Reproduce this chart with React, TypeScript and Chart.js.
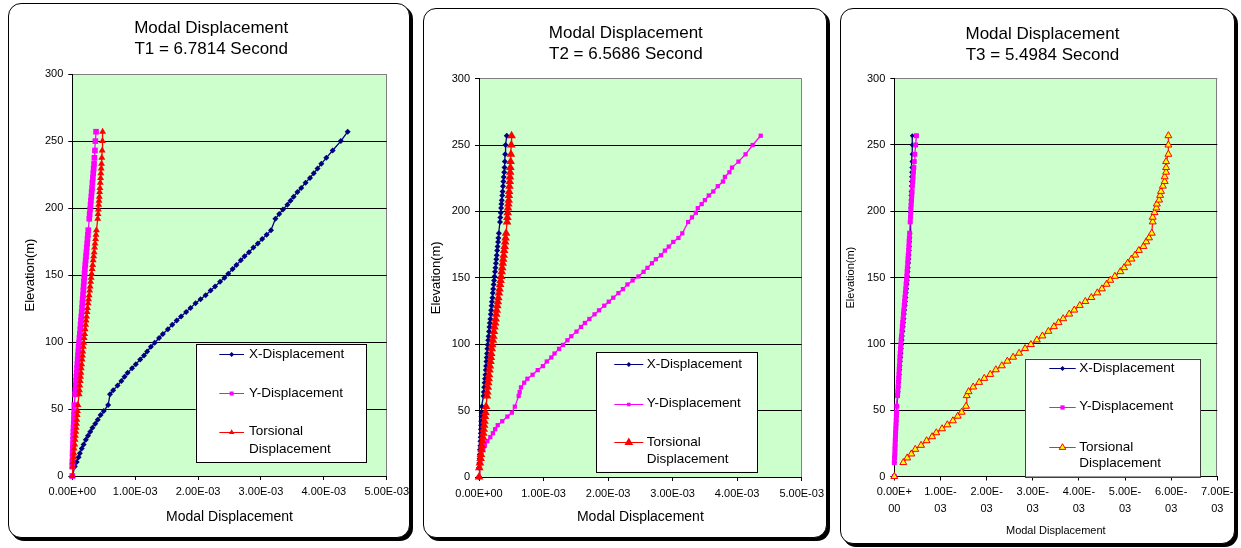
import React, { useEffect, useRef } from 'react';
import { Chart, registerables } from 'chart.js';

Chart.register(...registerables);

const FONT = '"Liberation Sans", Arial, Helvetica, sans-serif';
Chart.defaults.font.family = FONT;
Chart.defaults.color = '#000';

// ---------------- DATA ----------------
// Elevations (m) of the storey levels
const ELEVATIONS = [
  0, 7, 10.5, 14, 17, 20.5, 23.5, 27, 30, 33,
  36, 39, 42, 45.5, 48.5, 53, 61, 64, 67.5, 71,
  74, 77, 80.5, 83.5, 87, 90, 93, 96.5, 99.5, 103,
  106, 109.5, 113, 116, 119, 122.5, 125.5, 129, 132, 135,
  138.5, 141.5, 145, 148, 151, 154.5, 157.5, 161, 164, 167,
  170.5, 173.5, 177, 180, 183.5, 192, 195.5, 199, 202.5, 205.5,
  208.5, 212, 215, 219, 222.5, 226, 229.5, 233, 237.5, 243,
  250, 257,
];

// Displacements in units of 1E-03
const T1_X = [
  0, 0.04, 0.07, 0.10, 0.12, 0.15, 0.18, 0.215, 0.25, 0.285,
  0.32, 0.365, 0.405, 0.45, 0.50, 0.57, 0.60, 0.65, 0.72, 0.78,
  0.83, 0.88, 0.95, 1.01, 1.08, 1.14, 1.19, 1.25, 1.31, 1.38,
  1.44, 1.52, 1.59, 1.66, 1.73, 1.81, 1.88, 1.96, 2.04, 2.12,
  2.20, 2.27, 2.35, 2.42, 2.48, 2.55, 2.61, 2.68, 2.74, 2.81,
  2.88, 2.95, 3.02, 3.09, 3.16, 3.23, 3.29, 3.35, 3.42, 3.47,
  3.52, 3.58, 3.64, 3.71, 3.78, 3.84, 3.90, 3.96, 4.04, 4.14,
  4.27, 4.38,
];
const T1_Y = [
  0, 0, 0, 0.005, 0.005, 0.008, 0.01, 0.012, 0.015, 0.017,
  0.02, 0.022, 0.025, 0.027, 0.03, 0.032, 0.045, 0.05, 0.055, 0.06,
  0.065, 0.07, 0.075, 0.08, 0.085, 0.09, 0.095, 0.10, 0.107, 0.113,
  0.12, 0.126, 0.132, 0.138, 0.143, 0.15, 0.155, 0.16, 0.165, 0.17,
  0.175, 0.18, 0.185, 0.19, 0.195, 0.20, 0.206, 0.212, 0.218, 0.224,
  0.23, 0.236, 0.242, 0.248, 0.254, 0.27, 0.276, 0.283, 0.29, 0.296,
  0.302, 0.308, 0.314, 0.32, 0.327, 0.333, 0.34, 0.346, 0.352, 0.36,
  0.367, 0.378,
];
const T1_T = [
  0, 0.005, 0.01, 0.02, 0.025, 0.03, 0.04, 0.045, 0.05, 0.057,
  0.062, 0.068, 0.073, 0.078, 0.083, 0.09, 0.11, 0.115, 0.12, 0.127,
  0.132, 0.138, 0.143, 0.15, 0.157, 0.163, 0.168, 0.175, 0.182, 0.19,
  0.197, 0.205, 0.213, 0.22, 0.228, 0.236, 0.243, 0.252, 0.26, 0.268,
  0.276, 0.284, 0.292, 0.30, 0.308, 0.316, 0.324, 0.332, 0.34, 0.348,
  0.355, 0.362, 0.37, 0.377, 0.384, 0.405, 0.41, 0.415, 0.42, 0.425,
  0.43, 0.435, 0.44, 0.445, 0.45, 0.455, 0.46, 0.465, 0.47, 0.475,
  0.48, 0.482,
];

const T2_X = [
  0, 0, 0.005, 0.01, 0.012, 0.015, 0.02, 0.022, 0.025, 0.028,
  0.03, 0.033, 0.035, 0.038, 0.04, 0.045, 0.07, 0.075, 0.08, 0.087,
  0.093, 0.10, 0.105, 0.11, 0.115, 0.12, 0.125, 0.13, 0.135, 0.142,
  0.148, 0.155, 0.162, 0.168, 0.175, 0.182, 0.188, 0.195, 0.20, 0.207,
  0.213, 0.22, 0.227, 0.233, 0.24, 0.248, 0.255, 0.262, 0.268, 0.275,
  0.282, 0.288, 0.295, 0.30, 0.308, 0.325, 0.33, 0.337, 0.343, 0.348,
  0.353, 0.36, 0.365, 0.372, 0.378, 0.383, 0.39, 0.395, 0.40, 0.405,
  0.412, 0.43,
];
const T2_Y = [
  0, 0.01, 0.02, 0.03, 0.04, 0.065, 0.09, 0.13, 0.175, 0.215,
  0.25, 0.29, 0.36, 0.44, 0.51, 0.555, 0.615, 0.63, 0.65, 0.70,
  0.75, 0.83, 0.91, 0.99, 1.05, 1.12, 1.17, 1.24, 1.30, 1.37,
  1.43, 1.51, 1.58, 1.64, 1.71, 1.79, 1.86, 1.94, 2.01, 2.08,
  2.16, 2.23, 2.30, 2.38, 2.47, 2.55, 2.61, 2.68, 2.74, 2.82,
  2.88, 2.94, 3.01, 3.09, 3.15, 3.24, 3.30, 3.36, 3.39, 3.45,
  3.50, 3.56, 3.63, 3.70, 3.78, 3.81, 3.88, 3.92, 4.02, 4.13,
  4.24, 4.365,
];
const T2_T = [
  0, 0.005, 0.015, 0.025, 0.03, 0.04, 0.045, 0.055, 0.06, 0.067,
  0.073, 0.08, 0.085, 0.092, 0.10, 0.11, 0.125, 0.13, 0.137, 0.143,
  0.15, 0.155, 0.163, 0.17, 0.178, 0.185, 0.19, 0.198, 0.205, 0.215,
  0.223, 0.232, 0.24, 0.25, 0.258, 0.267, 0.275, 0.284, 0.292, 0.30,
  0.31, 0.318, 0.327, 0.335, 0.343, 0.352, 0.36, 0.368, 0.375, 0.383,
  0.39, 0.398, 0.405, 0.412, 0.42, 0.435, 0.44, 0.445, 0.45, 0.455,
  0.46, 0.463, 0.467, 0.472, 0.476, 0.48, 0.483, 0.486, 0.49, 0.495,
  0.50, 0.505,
];

const T3_X = [
  0, null, 0.005, 0.01, 0.013, 0.017, 0.02, 0.024, 0.028, 0.032,
  0.036, 0.04, 0.044, 0.048, 0.052, 0.058, 0.078, 0.084, 0.091, 0.098,
  0.105, 0.112, 0.119, 0.126, 0.133, 0.14, 0.147, 0.154, 0.161, 0.169,
  0.177, 0.186, 0.194, 0.202, 0.21, 0.219, 0.227, 0.236, 0.244, 0.252,
  0.26, 0.268, 0.276, 0.284, 0.291, 0.298, 0.304, 0.31, 0.316, 0.322,
  0.327, 0.331, 0.335, 0.339, 0.342, 0.345, 0.348, 0.35, 0.353, 0.356,
  0.358, 0.361, 0.364, 0.367, 0.37, 0.373, 0.376, 0.379, 0.382, 0.385,
  0.388, 0.39,
];
const T3_Y = [
  0, null, 0, 0.005, 0.01, 0.013, 0.017, 0.02, 0.024, 0.028,
  0.032, 0.036, 0.04, 0.044, 0.048, 0.053, 0.07, 0.076, 0.082, 0.088,
  0.094, 0.10, 0.106, 0.111, 0.117, 0.122, 0.127, 0.134, 0.14, 0.148,
  0.155, 0.165, 0.173, 0.18, 0.19, 0.198, 0.205, 0.215, 0.222, 0.23,
  0.24, 0.247, 0.255, 0.263, 0.27, 0.277, 0.283, 0.29, 0.296, 0.302,
  0.309, 0.315, 0.32, 0.326, 0.332, 0.345, 0.35, 0.356, 0.362, 0.368,
  0.374, 0.38, 0.386, 0.393, 0.40, 0.408, 0.415, 0.423, 0.433, 0.445,
  0.462, 0.48,
];
const T3_T = [
  0, null, 0.195, 0.28, 0.37, 0.455, 0.58, 0.70, 0.82, 0.91,
  1.035, 1.15, 1.27, 1.375, 1.46, 1.555, 1.57, 1.61, 1.71, 1.84,
  1.95, 2.08, 2.20, 2.33, 2.45, 2.575, 2.705, 2.835, 2.96, 3.09,
  3.21, 3.34, 3.46, 3.56, 3.66, 3.79, 3.90, 4.02, 4.14, 4.27,
  4.40, 4.50, 4.60, 4.68, 4.78, 4.90, 4.98, 5.06, 5.14, 5.22,
  5.30, 5.40, 5.46, 5.52, 5.58, 5.60, 5.60, 5.64, 5.68, 5.69,
  5.74, 5.76, 5.78, 5.82, 5.86, 5.86, 5.89, 5.89, 5.89, 5.94,
  5.94, 5.94,
];

const TITLE_T1 = ['Modal Displacement', 'T1 = 6.7814 Second'];
const TITLE_T2 = ['Modal Displacement', 'T2 = 6.5686 Second'];
const TITLE_T3 = ['Modal Displacement', 'T3 = 5.4984 Second'];
const X_AXIS_TITLE = 'Modal Displacement';
const Y_AXIS_TITLE = 'Elevation(m)';
const SERIES_LABELS = ['X-Displacement', 'Y-Displacement', 'Torsional Displacement'];
const LEGEND_LINES = [['X-Displacement'], ['Y-Displacement'], ['Torsional', 'Displacement']];
const Y_MAX = 300;
const Y_STEP = 50;
const X_STEP = 1; // 1.00E-03

// ---------------- LAYOUT / STYLE ----------------
type PanelCfg = {
  box: { left: number; top: number; w: number; h: number };
  title: string[];
  series: (number | null)[][];
  xMax: number;
  pad: { left: number; right: number; top: number; bottom: number };
  yW: number;
  xH: number;
  padR: number;
  titlePad: { top: number; bottom: number };
  titleLH: number;
  xTitleSize: number;
  yTitleSize: number;
  yTitlePad: number;
  xTickPad: number;
  xTickLH: number;
  wrap: boolean;
  legend: { box: number[]; line: number[]; textX: number; ys: number[]; lineGap: number; border: string; fontSize: number };
  pointR: number[];
  legendR: number[];
  torsionFill: string;
  torsionLine: string;
  torsionPointBorder: number;
};

const PANELS: PanelCfg[] = [
  {
    box: { left: 8, top: 3, w: 402, h: 535 },
    title: TITLE_T1,
    series: [T1_X, T1_Y, T1_T],
    xMax: 5,
    pad: { left: 4.4, right: 0, top: 0, bottom: 11.9 },
    yW: 58.9, xH: 49.1, padR: 22.3,
    titlePad: { top: 13.55, bottom: 14.75 }, titleLH: 1.23,
    xTitleSize: 14, yTitleSize: 13, yTitlePad: 8.8,
    xTickPad: 5.7, xTickLH: 1.2, wrap: false,
    legend: { box: [186.7, 340.3, 357, 458.7], line: [210.3, 235], textX: 240, ys: [350.3, 389.3, 427.7], lineGap: 17.3, border: '#000', fontSize: 13.5 },
    pointR: [3, 4, 4], legendR: [2.5, 2.8, 3.2],
    torsionFill: '#FF0000', torsionLine: '#FF0000', torsionPointBorder: 0,
  },
  {
    box: { left: 423, top: 8, w: 404, h: 530 },
    title: TITLE_T2,
    series: [T2_X, T2_Y, T2_T],
    xMax: 5,
    pad: { left: 1.6, right: 0, top: 0, bottom: 11.6 },
    yW: 53.4, xH: 48.4, padR: 24.3,
    titlePad: { top: 13.75, bottom: 14.05 }, titleLH: 1.23,
    xTitleSize: 14, yTitleSize: 13, yTitlePad: 3.3,
    xTickPad: 6.1, xTickLH: 1.2, wrap: false,
    legend: { box: [172, 343.2, 333.3, 462.7], line: [190.3, 219.3], textX: 222.7, ys: [355.1, 394.6, 433], lineGap: 16.8, border: '#000', fontSize: 13.5 },
    pointR: [3, 3, 5], legendR: [2.5, 2.5, 5],
    torsionFill: '#FF0000', torsionLine: '#FF0000', torsionPointBorder: 0,
  },
  {
    box: { left: 840, top: 8, w: 395, h: 536 },
    title: TITLE_T3,
    series: [T3_X, T3_Y, T3_T],
    xMax: 7,
    pad: { left: 10, right: 0, top: 0, bottom: 5.7 },
    yW: 43.3, xH: 60.8, padR: 16.7,
    titlePad: { top: 14.8, bottom: 12.9 }, titleLH: 1.235,
    xTitleSize: 11, yTitleSize: 11, yTitlePad: -6.9,
    xTickPad: 3.45, xTickLH: 1.52, wrap: true,
    legend: { box: [184, 349.6, 359, 467.6], line: [208.3, 234.7], textX: 238.3, ys: [359.4, 397.6, 437.8], lineGap: 16.8, border: '#404040', fontSize: 13.5 },
    pointR: [2.5, 3.5, 4], legendR: [2.5, 3, 3.8],
    torsionFill: '#FFFF00', torsionLine: '#FF2020', torsionPointBorder: 1,
  },
];

const NAVY = '#000080';
const MAGENTA = '#FF00FF';
const PLOT_BG = '#CCFFCC';

function fmtTick(v: number, wrap: boolean): string | string[] {
  const s = v === 0 ? ['0.00E+', '00'] : [`${v.toFixed(2)}E-`, '03'];
  return wrap ? s : s.join('');
}

function drawMarker(ctx: CanvasRenderingContext2D, style: string, x: number, y: number, r: number, fill: string, stroke: string, lw: number) {
  ctx.beginPath();
  if (style === 'rectRot') {
    ctx.moveTo(x - r, y); ctx.lineTo(x, y - r); ctx.lineTo(x + r, y); ctx.lineTo(x, y + r); ctx.closePath();
  } else if (style === 'rect') {
    const s = r * Math.SQRT1_2;
    ctx.rect(x - s, y - s, 2 * s, 2 * s);
  } else {
    ctx.moveTo(x, y - r); ctx.lineTo(x + r * 0.866, y + r * 0.5); ctx.lineTo(x - r * 0.866, y + r * 0.5); ctx.closePath();
  }
  ctx.fillStyle = fill;
  ctx.fill();
  if (lw > 0) { ctx.strokeStyle = stroke; ctx.lineWidth = lw; ctx.stroke(); }
}

const plotFrame = {
  id: 'plotFrame',
  beforeDraw(chart: any) {
    const { ctx, chartArea: a } = chart;
    ctx.save();
    ctx.fillStyle = PLOT_BG;
    ctx.fillRect(a.left, a.top, a.right - a.left, a.bottom - a.top);
    ctx.strokeStyle = '#808080';
    ctx.lineWidth = 1;
    const xr = Math.round(a.right) - 0.5;
    ctx.beginPath();
    ctx.moveTo(xr, a.top);
    ctx.lineTo(xr, a.bottom);
    ctx.stroke();
    ctx.restore();
  },
};

function makeLegend(cfg: PanelCfg) {
  const o = cfg.legend;
  return {
    id: 'boxLegend',
    afterDraw(chart: any) {
      const ctx: CanvasRenderingContext2D = chart.ctx;
      const [x1, y1, x2, y2] = o.box;
      ctx.save();
      ctx.fillStyle = '#fff';
      ctx.fillRect(x1, y1, x2 - x1, y2 - y1);
      ctx.strokeStyle = o.border;
      ctx.lineWidth = 1;
      ctx.strokeRect(Math.round(x1) + 0.5, Math.round(y1) + 0.5, Math.round(x2 - x1), Math.round(y2 - y1));
      ctx.font = `${o.fontSize}px ${FONT}`;
      ctx.textBaseline = 'middle';
      ctx.textAlign = 'left';
      chart.data.datasets.forEach((ds: any, i: number) => {
        const y = Math.round(o.ys[i]) + 0.5;
        ctx.strokeStyle = ds.borderColor;
        ctx.lineWidth = 1;
        ctx.beginPath();
        ctx.moveTo(o.line[0], y);
        ctx.lineTo(o.line[1], y);
        ctx.stroke();
        drawMarker(ctx, ds.pointStyle, (o.line[0] + o.line[1]) / 2, y, cfg.legendR[i], ds.pointBackgroundColor, ds.pointBorderColor, ds.pointBorderWidth);
        ctx.fillStyle = '#000';
        LEGEND_LINES[i].forEach((t, k) => ctx.fillText(t, o.textX, o.ys[i] + k * o.lineGap));
      });
      ctx.restore();
    },
  };
}

function toPoints(vals: (number | null)[]) {
  return ELEVATIONS.map((y, i) => ({ x: vals[i] as any, y }));
}

function buildConfig(cfg: PanelCfg): any {
  const datasets = [
    {
      label: SERIES_LABELS[0], data: toPoints(cfg.series[0]), showLine: true,
      borderColor: NAVY, backgroundColor: NAVY, pointBackgroundColor: NAVY, pointBorderColor: NAVY,
      pointStyle: 'rectRot', pointRadius: cfg.pointR[0], pointBorderWidth: 0, borderWidth: 1.3, order: 3, clip: false,
    },
    {
      label: SERIES_LABELS[1], data: toPoints(cfg.series[1]), showLine: true,
      borderColor: MAGENTA, backgroundColor: MAGENTA, pointBackgroundColor: MAGENTA, pointBorderColor: MAGENTA,
      pointStyle: 'rect', pointRadius: cfg.pointR[1], pointBorderWidth: 0, borderWidth: 1.3, order: 2, clip: false,
    },
    {
      label: SERIES_LABELS[2], data: toPoints(cfg.series[2]), showLine: true,
      borderColor: cfg.torsionLine, backgroundColor: cfg.torsionFill, pointBackgroundColor: cfg.torsionFill, pointBorderColor: '#FF0000',
      pointStyle: 'triangle', pointRadius: cfg.pointR[2], pointBorderWidth: cfg.torsionPointBorder, borderWidth: 1.3, order: 1, clip: false,
    },
  ];
  return {
    type: 'scatter',
    data: { datasets },
    options: {
      responsive: false,
      animation: false,
      events: [],
      layout: { padding: cfg.pad },
      plugins: {
        legend: { display: false },
        tooltip: { enabled: false },
        title: {
          display: true,
          text: cfg.title,
          color: '#000',
          font: { family: FONT, size: 17, weight: 'normal', lineHeight: cfg.titleLH },
          padding: cfg.titlePad,
        },
      },
      scales: {
        x: {
          type: 'linear',
          min: 0,
          max: cfg.xMax,
          afterFit: (s: any) => { s.height = cfg.xH; s.paddingLeft = 0; s.paddingRight = cfg.padR; },
          ticks: {
            stepSize: X_STEP, autoSkip: false, maxRotation: 0, minRotation: 0,
            padding: cfg.xTickPad, color: '#000',
            font: { family: FONT, size: 11, lineHeight: cfg.xTickLH },
            callback: (v: any) => fmtTick(Number(v), cfg.wrap),
          },
          grid: { drawOnChartArea: false, drawTicks: true, tickLength: 4, color: '#000', tickColor: '#000' },
          border: { display: true, color: '#000', width: 1 },
          title: { display: true, text: X_AXIS_TITLE, color: '#000', font: { family: FONT, size: cfg.xTitleSize }, padding: 0 },
        },
        y: {
          type: 'linear',
          min: 0,
          max: Y_MAX,
          afterFit: (s: any) => { s.width = cfg.yW; s.paddingTop = 0; s.paddingBottom = 0; },
          ticks: { stepSize: Y_STEP, padding: 5, color: '#000', font: { family: FONT, size: 11 } },
          grid: {
            color: (c: any) => (c.tick && c.tick.value === Y_MAX ? '#808080' : '#000'),
            tickColor: '#000', tickLength: 4, lineWidth: 1,
          },
          border: { display: true, color: '#000', width: 1 },
          title: { display: true, text: Y_AXIS_TITLE, color: '#000', font: { family: FONT, size: cfg.yTitleSize }, padding: { top: cfg.yTitlePad, bottom: 0 } },
        },
      },
    },
    plugins: [plotFrame, makeLegend(cfg)],
  };
}

function Panel({ cfg }: { cfg: PanelCfg }) {
  const ref = useRef<HTMLCanvasElement>(null);
  useEffect(() => {
    if (!ref.current) return;
    const chart = new Chart(ref.current, buildConfig(cfg));
    return () => chart.destroy();
  }, [cfg]);
  const cw = cfg.box.w - 2;
  const ch = cfg.box.h - 2;
  return (
    <div
      style={{
        position: 'absolute', left: cfg.box.left, top: cfg.box.top, width: cfg.box.w, height: cfg.box.h,
        boxSizing: 'border-box', border: '1px solid #000', borderRadius: 13, boxShadow: '3px 3px 0 0 #000', background: '#fff',
      }}
    >
      <canvas ref={ref} width={cw} height={ch} style={{ position: 'absolute', left: 0, top: 0, width: cw, height: ch, display: 'block' }} />
    </div>
  );
}

export default function App() {
  return (
    <div style={{ position: 'absolute', left: 0, top: 0, width: 1241, height: 548, overflow: 'hidden', background: '#fff' }}>
      {PANELS.map((p, i) => (
        <Panel key={i} cfg={p} />
      ))}
    </div>
  );
}
